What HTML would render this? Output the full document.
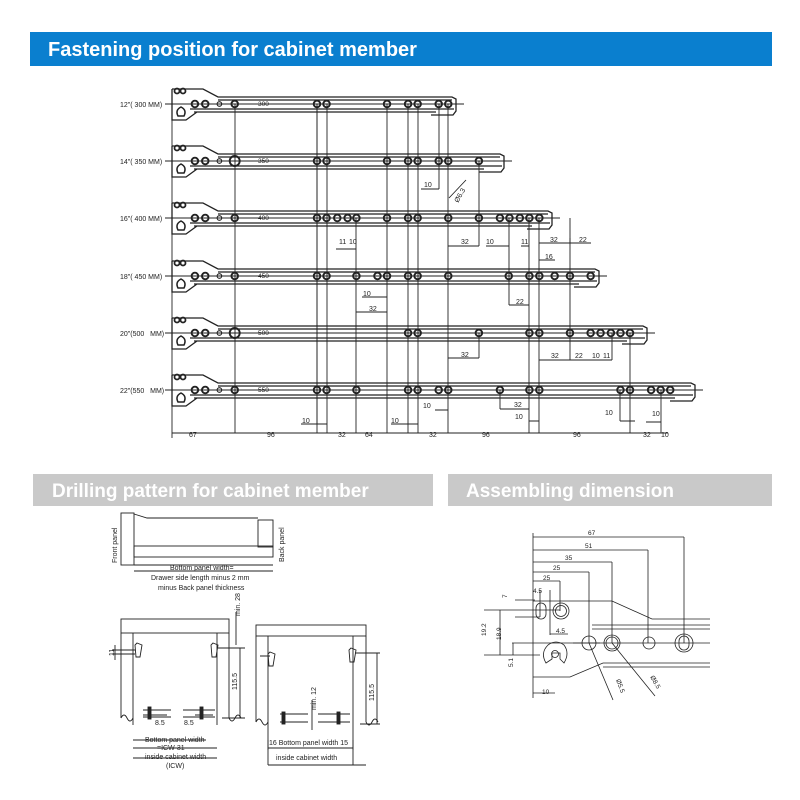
<!DOCTYPE html>
<html><head><meta charset="utf-8"><style>
body{margin:0;background:#fff;width:800px;height:800px;overflow:hidden}
svg{display:block}
text{font-family:"Liberation Sans",sans-serif;fill:#222}
.s{font-size:7px}
.t{font-size:6.5px}
</style></head><body>
<svg id="sv" width="800" height="800" viewBox="0 0 800 800" xmlns="http://www.w3.org/2000/svg">
<rect width="800" height="800" fill="#fff"/>
<rect x="30" y="32" width="742" height="34" fill="#0a7fcf"/>
<text x="48" y="56" style="font-size:20px;font-weight:bold;fill:#fff">Fastening position for cabinet member</text>
<rect x="33" y="474" width="400" height="32" fill="#c9c9c9"/>
<text x="52" y="497" style="font-size:19px;font-weight:bold;fill:#fff">Drilling pattern for cabinet member</text>
<rect x="448" y="474" width="324" height="32" fill="#c9c9c9"/>
<text x="466" y="497" style="font-size:19px;font-weight:bold;fill:#fff">Assembling dimension</text>

<g id="rails" stroke="#222" fill="none" stroke-width="1.1"></g>

<g class="s">
<text x="120" y="107">12"( 300 MM)</text>
<text x="120" y="164">14"( 350 MM)</text>
<text x="120" y="221">16"( 400 MM)</text>
<text x="120" y="279">18"( 450 MM)</text>
<text x="120" y="336">20"(500 &#160; MM)</text>
<text x="120" y="393">22"(550 &#160; MM)</text>
<g class="t"><text x="258" y="106">300</text><text x="258" y="163">350</text><text x="258" y="220">400</text><text x="258" y="278">450</text><text x="258" y="335">500</text><text x="258" y="392">550</text></g>
<text x="189" y="437">67</text><text x="267" y="437">96</text><text x="338" y="437">32</text><text x="365" y="437">64</text><text x="429" y="437">32</text><text x="482" y="437">96</text><text x="573" y="437">96</text><text x="643" y="437">32</text><text x="661" y="437">10</text>
<text x="424" y="187">10</text>
<text x="0" y="0" transform="translate(458,203) rotate(-60)">Ø6.3</text>
<text x="339" y="244">11</text><text x="349" y="244">10</text><text x="461" y="244">32</text><text x="486" y="244">10</text><text x="521" y="244">11</text><text x="550" y="242">32</text><text x="579" y="242">22</text>
<text x="545" y="259">16</text>
<text x="363" y="296">10</text><text x="369" y="311">32</text><text x="516" y="304">22</text>
<text x="461" y="357">32</text><text x="551" y="358">32</text><text x="575" y="358">22</text><text x="592" y="358">10</text><text x="603" y="358">11</text>
<text x="423" y="408">10</text><text x="514" y="407">32</text><text x="515" y="419">10</text><text x="605" y="415">10</text><text x="652" y="416">10</text><text x="302" y="423">10</text><text x="391" y="423">10</text>
</g>
<g stroke="#222" stroke-width="0.9" fill="none">
<line x1="172" y1="95" x2="172" y2="438"/>
<line x1="172" y1="433" x2="668" y2="433"/>
<path d="M421 189H439M449 198L466 180M448 246H479M336 249H356M486 246H509M521 246H529M539 243H570V238M570 243H591M539 260H555M362 297H387M356 312H387M509 305H529M448 358H479M539 360H612M435 410H448M500 409H529M529 421H539M620 421H635M646 422H661M301 424H327M391 424H418"/>
</g>

<!-- Drilling pattern -->
<g stroke="#222" stroke-width="0.9" fill="none">
<rect x="121" y="513" width="13" height="52"/>
<path d="M134 514L147 518H258"/>
<rect x="258" y="520" width="15" height="27"/>
<rect x="134" y="546" width="139" height="11"/>
<line x1="134" y1="565" x2="273" y2="565"/>
<line x1="134" y1="571" x2="273" y2="571"/>
<rect x="121" y="619" width="108" height="14"/>
<path d="M121 633V718M133 633V725M217 633V725M229 633V718"/>
<path d="M121 718q3-6 6 0t6 0M229 718q3 6 6 0t6 0"/>
<path d="M137 643l-2 2 1 12h4l2-12zM213 643l-2 2 1 12h4l2-12z"/>
<path d="M112 650H135M112 654H135M218 648H245M222 718H245M240 648V718M236 612V645M115 645V660"/>
<path d="M143 710H171M143 717H171M183 710H215M183 717H215M143 715H167M195 715H213"/>
<path d="M133 740H206M133 748H217M133 758H217"/>
<rect x="148" y="707" width="3" height="12" fill="#222"/><rect x="200" y="707" width="3" height="12" fill="#222"/>
<rect x="256" y="625" width="110" height="11"/>
<path d="M256 636V722M268 636V765M353 636V765M366 636V722"/>
<path d="M256 722q3-6 6 0t6 0M366 722q3 6 6 0t6 0"/>
<path d="M270 652l-2 2 1 12h4l2-12zM351 648l-2 2 1 12h4l2-12z"/>
<path d="M260 656H270M355 653H380M360 724H380M377 653V724"/>
<path d="M280 714H308M280 722H308M318 714H350M318 722H350M312 700V730"/>
<rect x="282" y="712" width="3" height="12" fill="#222"/><rect x="337" y="712" width="3" height="12" fill="#222"/>
<path d="M268 748H353M268 765H366M268 740V750M353 740V750"/>
</g>
<g class="s">
<text x="0" y="0" transform="translate(117,563) rotate(-90)">Front panel</text>
<text x="0" y="0" transform="translate(284,562) rotate(-90)">Back panel</text>
<text x="170" y="570">Bottom panel width=</text>
<text x="151" y="580">Drawer side length minus 2 mm</text>
<text x="158" y="590">minus Back panel thickness</text>
<text x="0" y="0" transform="translate(240,616) rotate(-90)">min. 28</text>
<text x="0" y="0" transform="translate(114,656) rotate(-90)">11</text>
<text x="0" y="0" transform="translate(237,690) rotate(-90)">115.5</text>
<text x="155" y="725">8.5</text><text x="184" y="725">8.5</text>
<text x="145" y="742">Bottom panel width</text>
<text x="157" y="750">=ICW-31</text>
<text x="145" y="759">inside cabinet width</text>
<text x="166" y="768">(ICW)</text>
<text x="0" y="0" transform="translate(316,710) rotate(-90)">min. 12</text>
<text x="0" y="0" transform="translate(374,701) rotate(-90)">115.5</text>
<text x="269" y="745">16 Bottom panel width 15</text>
<text x="276" y="760">inside cabinet width</text>
</g>

<!-- Assembling -->
<g stroke="#222" stroke-width="0.8" fill="none">
<path d="M533 533V698M533 537H684M533 550H648M533 562H612M533 572H589M533 581H560M684 537V643M648 550V643M612 562V643M589 572V643M560 581V611"/>
<path d="M533 601H612L652 619H710M592 625H710M592 629H710M533 677H570L603 663H710M603 667H710M573 643H710"/>
<path d="M512 643H600M484 610H560M484 655H540M515 600H535M515 617H540M500 610V655M513 643V655M540 590V617M550 590V635M550 634H568M533 693H555"/>
<rect x="536" y="603" width="10" height="16" rx="5"/>
<circle cx="561" cy="611" r="8"/><circle cx="561" cy="611" r="5.5"/>
<circle cx="589" cy="643" r="7"/><circle cx="612" cy="643" r="8"/><circle cx="612" cy="643" r="6"/>
<circle cx="649" cy="643" r="6"/>
<circle cx="684" cy="643" r="9"/><rect x="679" y="636" width="10" height="14" rx="5"/>
<path d="M546 663q-6-10 2-18 8-6 16 0 6 8 0 18l-4-4v-6h-8v6z"/>
<circle cx="555" cy="654" r="3.5"/>
<path d="M589 643L613 700M612 643L655 696"/>
</g>
<g class="t">
<text x="588" y="535">67</text><text x="585" y="548">51</text><text x="565" y="560">35</text><text x="553" y="570">25</text><text x="543" y="580">25</text>
<text x="533" y="593">4.5</text><text x="556" y="633">4.5</text><text x="542" y="694">10</text>
<text x="0" y="0" transform="translate(507,598) rotate(-90)">7</text>
<text x="0" y="0" transform="translate(486,636) rotate(-90)">19.2</text>
<text x="0" y="0" transform="translate(501,640) rotate(-90)">18.9</text>
<text x="0" y="0" transform="translate(513,667) rotate(-90)">5.1</text>
<text x="0" y="0" transform="translate(616,680) rotate(70)">Ø5.5</text>
<text x="0" y="0" transform="translate(650,677) rotate(60)">Ø8.5</text>
</g>
</svg>
<script>
(function(){
var NS="http://www.w3.org/2000/svg",g=document.getElementById('rails');
function el(n,a){var e=document.createElementNS(NS,n);for(var k in a)e.setAttribute(k,a[k]);g.appendChild(e);return e;}
function X(z){return z/2.613+100;}
var cys=[104,161,218,276,333,390],ends=[456,504,552,599,647,695];
var holes=[
[248,275,312,352,567,592,750,805,830,885,910],
[248,275,312,352,567,592,750,805,830,885,910,990],
[248,275,312,352,567,592,620,647,670,750,805,830,910,990,1045,1070,1097,1122,1148],
[248,275,312,352,567,592,670,725,750,805,830,910,1068,1122,1148,1188,1228,1282],
[248,275,312,352,805,830,990,1122,1148,1228,1282,1308,1335,1360,1385],
[248,275,312,352,567,592,670,805,830,885,910,1045,1122,1148,1360,1385,1440,1465,1490]];
for(var i=0;i<6;i++){var c=cys[i],e=ends[i];
el('path',{d:'M172 '+(c-15)+'H203L218 '+(c-7)+'H'+(e-4)+'L'+e+' '+(c-5)+'V'+(c+7)+'L'+(e-3)+' '+(c+11)+'H'+(e-25)+'M218 '+(c-4)+'H'+(e-4)+'M190 '+(c+5)+'H'+(e-2)+'M194 '+(c+8)+'H'+(e-20)+'M172 '+(c-15)+'V'+(c+16)+'H186L197 '+(c+8),'stroke-width':1.3});
el('line',{x1:165,y1:c,x2:e+8,y2:c,'stroke-width':0.9});
el('circle',{cx:177,cy:c-13,r:2.5,'stroke-width':1.8});el('circle',{cx:183,cy:c-13,r:2.5,'stroke-width':1.8});
el('path',{d:'M178 '+(c+12)+'q-3-6 3-9 6 3 3 9z','stroke-width':1.5});
holes[i].forEach(function(z,j){var r=(j==3&&(i==1||i==4))?5:(j==2?2.3:3.3);el('circle',{cx:X(z),cy:c,r:r,'stroke-width':j==2?1.1:1.9});});
}
var V=[[235,104],[317,104],[327,104],[356,218],[387,104],[408,104],[418,104],[448,104],[529,218],[539,218],[630,333],[661,390]];
V.forEach(function(v){el('line',{x1:v[0],y1:v[1],x2:v[0],y2:433,'stroke-width':0.9});});
el('path',{d:'M439 104V189M479 161V246M479 333V358M509 218V305M570 218V360M500 390V409M612 333V360M620 390V421M317 104V424','stroke-width':0.9});
})();
</script>
</body></html>
